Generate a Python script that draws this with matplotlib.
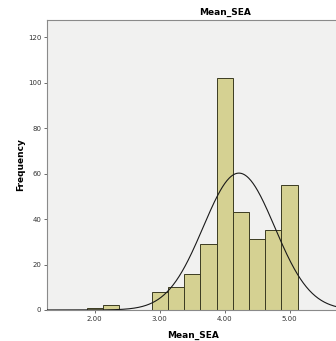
"""Histogram of Mean_SEA with normal curve (SPSS look)"""

import matplotlib
matplotlib.use("Agg")
import matplotlib.pyplot as plt
import numpy as np

# bin edges (width 0.25) and counts
bin_edges = [1.875, 2.125, 2.375, 2.625, 2.875, 3.125, 3.375, 3.625,
             3.875, 4.125, 4.375, 4.625, 4.875, 5.125]
counts = [1, 2, 0, 0, 8, 10, 16, 29, 102, 43, 31, 35, 55]

# normal curve parameters
curve_mean = 4.22
curve_sd = 0.55

x_ticks = [2.0, 3.0, 4.0, 5.0]
y_ticks = [0, 20, 40, 60, 80, 100, 120]


def create_chart(fig):
    ax = fig.add_axes([0.140, 0.091, 0.860, 0.850])
    ax.set_facecolor("#f1f1f0")

    left = np.array(bin_edges[:-1])
    width = np.diff(bin_edges)
    ax.bar(left, counts, width=width, align="edge", color="#d5d192",
           edgecolor="#3b3b22", linewidth=0.7, zorder=2)

    n = sum(counts)
    bw = 0.25
    xs = np.linspace(1.2, 5.8, 400)
    ys = n * bw / (curve_sd * np.sqrt(2 * np.pi)) * np.exp(-0.5 * ((xs - curve_mean) / curve_sd) ** 2)
    ax.plot(xs, ys, color="#1a1a1a", linewidth=0.8, zorder=3)

    ax.set_xlim(1.264, 5.715)
    ax.set_ylim(0, 127.5)
    ax.set_xticks(x_ticks)
    ax.set_xticklabels([f"{v:.2f}" for v in x_ticks])
    ax.set_yticks(y_ticks)
    ax.tick_params(labelsize=5, length=2.5, width=0.6, color="#555555",
                   labelcolor="#333333", pad=1.5)

    for side in ["top", "left", "bottom"]:
        ax.spines[side].set_color("#8a8a8a")
        ax.spines[side].set_linewidth(0.8)
    ax.spines["right"].set_visible(False)

    fig.text(0.670, 0.965, "Mean_SEA", ha="center", va="center",
             fontsize=6.5, fontweight="bold")
    fig.text(0.575, 0.015, "Mean_SEA", ha="center", va="center",
             fontsize=6.5, fontweight="bold")
    fig.text(0.060, 0.516, "Frequency", ha="center", va="center",
             rotation=90, fontsize=6.5, fontweight="bold")


if __name__ == "__main__":
    fig = plt.figure(figsize=(3.36, 3.41), dpi=100)
    create_chart(fig)
    fig.savefig("out.png", dpi=100, facecolor="white")
